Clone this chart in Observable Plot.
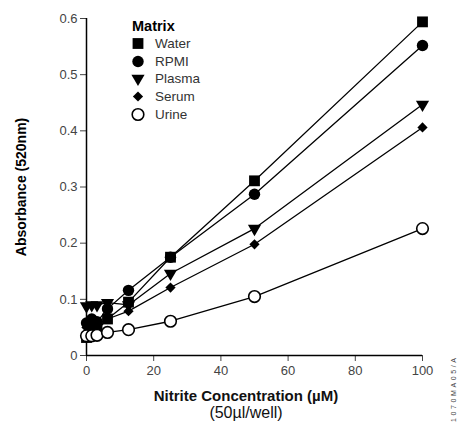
<!DOCTYPE html>
<html><head><meta charset="utf-8">
<script src="https://cdn.jsdelivr.net/npm/d3@7"></script>
<script src="https://cdn.jsdelivr.net/npm/@observablehq/plot@0.6"></script>
<style>
body{margin:0;background:#fff;font-family:"Liberation Sans",Arial,sans-serif;}
#wrap{position:relative;width:459px;height:427px;}
.xt{position:absolute;left:78px;width:336px;text-align:center;color:#111;}
#legend{position:absolute;left:119px;top:17px;font-size:13.5px;color:#333;}
#legend .t{font-weight:bold;color:#000;font-size:14.5px;margin-left:13px;line-height:18px;}
#legend .r{height:17.6px;display:flex;align-items:center;}
#legend svg{width:22px;height:17px;margin-right:6px;margin-left:8px;}
#code{position:absolute;left:450px;top:422px;font-size:7px;color:#444;transform-origin:0 0;transform:rotate(-90deg);white-space:nowrap;letter-spacing:2.6px;}
</style></head>
<body><div id="wrap"></div>
<script>
const conc = [0, 1.56, 3.13, 6.25, 12.5, 25, 50, 100];
const water  = [0.032, 0.040, 0.045, 0.065, 0.095, 0.175, 0.311, 0.594];
const rpmi   = [0.058, 0.065, 0.060, 0.083, 0.116, 0.175, 0.287, 0.552];
const plasma = [0.088, 0.090, 0.090, 0.094, 0.090, 0.146, 0.226, 0.447];
const serum  = [0.050, 0.050, 0.055, 0.065, 0.079, 0.121, 0.198, 0.406];
const urine  = [0.035, 0.035, 0.036, 0.041, 0.046, 0.061, 0.105, 0.226];
const seriesNames = ["Water", "RPMI", "Plasma", "Serum", "Urine"];
const seriesValues = [water, rpmi, plasma, serum, urine];
const xTicks = [0, 20, 40, 60, 80, 100];
const yTicks = [0, 0.1, 0.2, 0.3, 0.4, 0.5, 0.6];

const style = {
  Water:  {symbol: "square",   r: 6.1, fill: "black", stroke: "none", rotate: 0},
  RPMI:   {symbol: "circle",   r: 5.7, fill: "black", stroke: "none", rotate: 0},
  Plasma: {symbol: "triangle", r: 4.9, fill: "black", stroke: "none", rotate: 180},
  Serum:  {symbol: "diamond2", r: 4.6, fill: "black", stroke: "none", rotate: 0},
  Urine:  {symbol: "circle",   r: 5.8, fill: "white", stroke: "black", rotate: 0}
};

const rows = seriesNames.flatMap((s, i) => conc.map((c, j) => ({series: s, x: c, y: seriesValues[i][j]})));

const marks = [
  Plot.axisX({ticks: xTicks, tickSize: 6, tickPadding: 4, fontSize: 13, label: null, color: "#444"}),
  Plot.axisY({ticks: yTicks, tickSize: 6, tickPadding: 3, fontSize: 13, color: "#444",
    tickFormat: d => d === 0 ? "0" : d.toFixed(1),
    label: "Absorbance (520nm)", labelAnchor: "center", labelArrow: "none", labelOffset: 70}),
  Plot.ruleY([0], {stroke: "black", strokeWidth: 1.5}),
  Plot.ruleX([0], {stroke: "black", strokeWidth: 1.5}),
  Plot.line(rows, {x: "x", y: "y", z: "series", stroke: "black", strokeWidth: 1.3})
];
for (const s of seriesNames) {
  const st = style[s];
  marks.push(Plot.dot(rows.filter(d => d.series === s), {x: "x", y: "y", symbol: () => st.symbol, r: st.r,
    fill: st.fill, stroke: st.stroke, strokeWidth: 1.6, rotate: st.rotate}));
}

const chart = Plot.plot({
  width: 459, height: 427,
  marginLeft: 86, marginRight: 37, marginTop: 18, marginBottom: 72,
  x: {domain: [0, 100]},
  y: {domain: [0, 0.6]},
  symbol: {type: "identity"},
  style: {fontFamily: "Liberation Sans, Arial, sans-serif", background: "white"},
  marks
});
const wrap = document.getElementById("wrap");
wrap.appendChild(chart);
d3.select(chart).selectAll("g[aria-label='y-axis label'] text").attr("font-weight", "bold").attr("font-size", 14).attr("fill", "#000");

// x title
const t1 = document.createElement("div"); t1.className = "xt";
t1.style.top = "387px"; t1.style.fontWeight = "bold"; t1.style.fontSize = "15px";
t1.textContent = "Nitrite Concentration (\u00b5M)"; wrap.appendChild(t1);
const t2 = document.createElement("div"); t2.className = "xt";
t2.style.top = "404px"; t2.style.fontSize = "16px";
t2.textContent = "(50\u00b5l/well)"; wrap.appendChild(t2);

// legend
const lg = document.createElement("div"); lg.id = "legend";
lg.innerHTML = '<div class="t">Matrix</div>';
const symMap = {square: d3.symbolSquare, circle: d3.symbolCircle, triangle: d3.symbolTriangle, diamond2: d3.symbolDiamond2};
for (const s of seriesNames) {
  const st = style[s];
  const row = document.createElement("div"); row.className = "r";
  const path = d3.symbol(symMap[st.symbol], Math.PI * st.r * st.r)();
  row.innerHTML = `<svg viewBox="-11 -8.5 22 17"><path d="${path}" transform="rotate(${st.rotate})" fill="${st.fill}" stroke="${st.stroke}" stroke-width="1.6"/></svg><span>${s}</span>`;
  lg.appendChild(row);
}
wrap.appendChild(lg);

const code = document.createElement("div"); code.id = "code"; code.textContent = "1070MA05/A"; wrap.appendChild(code);
</script></body></html>
